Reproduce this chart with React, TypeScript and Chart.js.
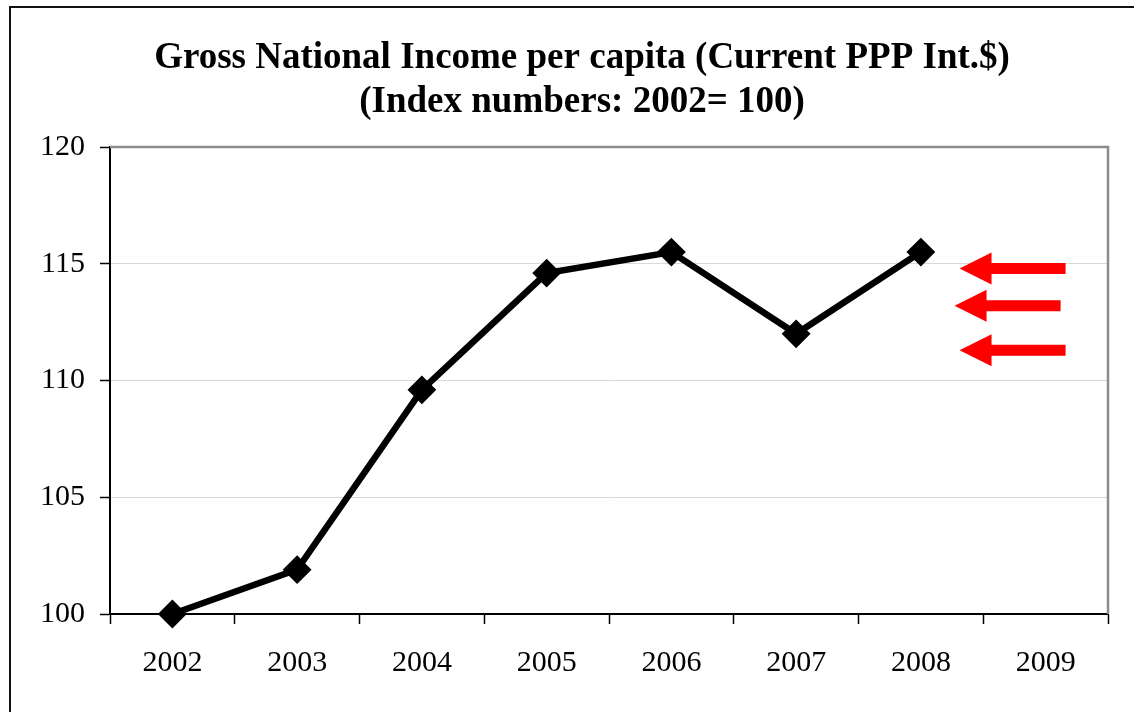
import React, { useEffect, useRef } from "react";
import { Chart, registerables } from "chart.js";

Chart.register(...registerables);

const TITLE_LINES = [
  "Gross National Income per capita (Current PPP Int.$)",
  "(Index numbers: 2002= 100)",
];
const YEARS = ["2002", "2003", "2004", "2005", "2006", "2007", "2008", "2009"];
const GNI_INDEX: (number | null)[] = [100, 101.9, 109.6, 114.6, 115.5, 112.0, 115.5, null];
const Y_MIN = 100;
const Y_MAX = 120;
const Y_STEP = 5;

// red arrow annotations (data space: y value, x as category index)
const ARROW_Y = [114.8, 113.2, 111.3];
const ARROW_X_TIP = [6.31, 6.27, 6.31];
const ARROW_X_END = [7.16, 7.12, 7.16];

const SERIF = "'Liberation Serif', 'Times New Roman', serif";

const framePlugin = {
  id: "frame",
  beforeDraw(chart: any) {
    const { ctx, width, height } = chart;
    ctx.save();
    ctx.fillStyle = "#fff";
    ctx.fillRect(0, 0, width, height);
    ctx.restore();
  },
  afterDraw(chart: any) {
    const { ctx, chartArea, width, height } = chart;
    ctx.save();
    // outer border
    ctx.strokeStyle = "#111";
    ctx.lineWidth = 2;
    ctx.beginPath();
    ctx.moveTo(10, height);
    ctx.lineTo(10, 7);
    ctx.lineTo(width, 7);
    ctx.stroke();
    // plot area top/right gray border
    ctx.strokeStyle = "#8c8c8c";
    ctx.lineWidth = 2.5;
    ctx.beginPath();
    ctx.moveTo(chartArea.left, chartArea.top);
    ctx.lineTo(chartArea.right, chartArea.top);
    ctx.lineTo(chartArea.right, chartArea.bottom);
    ctx.stroke();
    // title
    ctx.fillStyle = "#000";
    ctx.font = `bold 37px ${SERIF}`;
    ctx.textAlign = "center";
    ctx.textBaseline = "middle";
    const cx = 582;
    TITLE_LINES.forEach((line, i) => {
      ctx.fillText(line, cx, 58 + i * 44);
    });
    ctx.restore();
  },
};

const arrowPlugin = {
  id: "arrows",
  afterDatasetsDraw(chart: any) {
    const { ctx, scales } = chart;
    const xs = scales.x;
    const ys = scales.y;
    ctx.save();
    ctx.fillStyle = "#ff0000";
    for (let i = 0; i < ARROW_Y.length; i++) {
      const y = ys.getPixelForValue(ARROW_Y[i]);
      const tip = xs.getPixelForValue(ARROW_X_TIP[i]);
      const end = xs.getPixelForValue(ARROW_X_END[i]);
      const headLen = 32;
      const headHalf = 16;
      const shaftHalf = 5.5;
      ctx.beginPath();
      ctx.moveTo(tip, y);
      ctx.lineTo(tip + headLen, y - headHalf);
      ctx.lineTo(tip + headLen, y - shaftHalf);
      ctx.lineTo(end, y - shaftHalf);
      ctx.lineTo(end, y + shaftHalf);
      ctx.lineTo(tip + headLen, y + shaftHalf);
      ctx.lineTo(tip + headLen, y + headHalf);
      ctx.closePath();
      ctx.fill();
    }
    ctx.restore();
  },
};

export default function App() {
  const ref = useRef<HTMLCanvasElement | null>(null);

  useEffect(() => {
    document.body.style.margin = "0";
    const canvas = ref.current;
    if (!canvas) return;
    const chart = new Chart(canvas, {
      type: "line",
      data: {
        labels: YEARS,
        datasets: [
          {
            data: GNI_INDEX,
            borderColor: "#000",
            backgroundColor: "#000",
            borderWidth: 6.5,
            pointStyle: "rectRot",
            pointRadius: 13,
            pointBorderWidth: 2,
            pointBackgroundColor: "#000",
            pointBorderColor: "#000",
            tension: 0,
            clip: false as any,
          },
        ],
      },
      options: {
        animation: false,
        responsive: false,
        maintainAspectRatio: false,
        layout: { padding: { left: 0, right: 26, top: 147, bottom: 0 } },
        plugins: {
          legend: { display: false },
          tooltip: { enabled: false },
          title: { display: false },
        },
        scales: {
          x: {
            type: "category",
            offset: true,
            grid: {
              offset: true,
              drawOnChartArea: false,
              drawTicks: true,
              tickLength: 10,
              tickColor: "#000",
              tickWidth: 1.5,
            },
            border: { display: true, color: "#000", width: 2 },
            ticks: {
              color: "#000",
              font: { family: SERIF, size: 30 },
              padding: 21,
              maxRotation: 0,
              autoSkip: false,
            },
            afterFit(scale: any) {
              scale.height = 98;
            },
          },
          y: {
            min: Y_MIN,
            max: Y_MAX,
            grid: {
              color: "#d9d9d9",
              lineWidth: 1,
              tickLength: 10,
              tickColor: "#000",
              tickWidth: 1.5,
            },
            border: { display: true, color: "#000", width: 2 },
            ticks: {
              stepSize: Y_STEP,
              color: "#000",
              font: { family: SERIF, size: 30 },
              padding: 15,
            },
            afterFit(scale: any) {
              scale.width = 110;
            },
          },
        },
      },
      plugins: [framePlugin, arrowPlugin],
    });
    return () => chart.destroy();
  }, []);

  return (
    <div style={{ position: "fixed", left: 0, top: 0, width: 1134, height: 712 }}>
      <canvas ref={ref} width={1134} height={712} style={{ display: "block", width: 1134, height: 712 }} />
    </div>
  );
}
